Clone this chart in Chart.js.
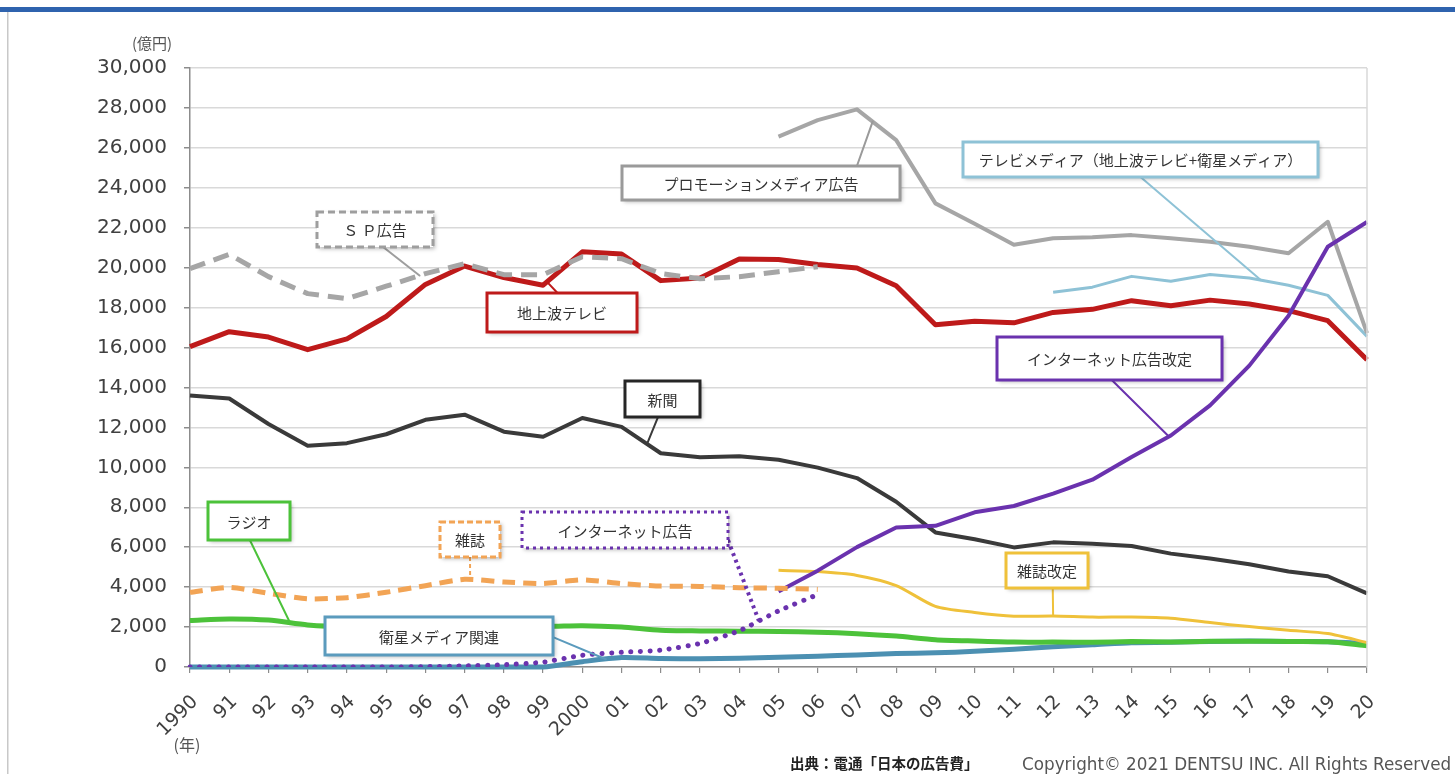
<!DOCTYPE html>
<html>
<head>
<meta charset="utf-8">
<script src="https://cdn.jsdelivr.net/npm/chart.js@4/dist/chart.umd.min.js"></script>
<style>
  html, body { margin: 0; padding: 0; background: #fff; overflow: hidden; }
  canvas { display: block; }
</style>
</head>
<body>
<canvas id="c" width="1455" height="774"></canvas>
<script>
// 媒体別広告費の推移（億円）1990〜2020年
const years = ['1990','91','92','93','94','95','96','97','98','99','2000','01','02','03','04','05','06','07','08','09','10','11','12','13','14','15','16','17','18','19','20'];
const yTicks = [0, 2000, 4000, 6000, 8000, 10000, 12000, 14000, 16000, 18000, 20000, 22000, 24000, 26000, 28000, 30000];

const terrestrialTV = [16046,16793,16526,15891,16435,17553,19162,20079,19505,19121,20793,20681,19351,19480,20436,20411,20161,19981,19092,17139,17321,17237,17757,17913,18347,18088,18374,18178,17848,17345,15386];
const spAds = [19950,20670,19550,18700,18450,19070,19700,20200,19650,19650,20550,20450,19700,19450,19550,19800,20050,null,null,null,null,null,null,null,null,null,null,null,null,null,null];
const promotionMedia = [null,null,null,null,null,null,null,null,null,null,null,null,null,null,null,26560,27390,27930,26390,23220,22200,21150,21470,21520,21630,21470,21300,21050,20720,22300,16720];
const tvMedia = [null,null,null,null,null,null,null,null,null,null,null,null,null,null,null,null,null,null,null,null,null,null,18770,19023,19564,19323,19657,19478,19123,18612,16559];
const newspaper = [13592,13445,12172,11087,11211,11657,12379,12636,11787,11535,12474,12027,10707,10500,10559,10377,9986,9462,8276,6739,6396,5990,6242,6170,6057,5679,5431,5147,4784,4547,3688];
const internetRevised = [null,null,null,null,null,null,null,null,null,null,null,null,null,null,null,3777,4826,6003,6983,7069,7747,8062,8680,9381,10519,11594,13100,15094,17589,21048,22290];
const internetOld = [0,0,0,0,0,0,16,60,114,241,590,735,845,1183,1814,2808,3630,null,null,null,null,null,null,null,null,null,null,null,null,null,null];
const magazineOld = [3741,3986,3692,3417,3473,3743,4073,4395,4258,4183,4369,4180,4051,4035,3970,3945,3887,null,null,null,null,null,null,null,null,null,null,null,null,null,null];
const magazineRevised = [null,null,null,null,null,null,null,null,null,null,null,null,null,null,null,4842,4777,4585,4078,3034,2733,2542,2551,2499,2500,2443,2223,2023,1841,1675,1223];
const radio = [2335,2406,2350,2109,2029,2082,2181,2247,2153,2043,2071,1998,1837,1807,1795,1778,1744,1671,1549,1370,1299,1247,1246,1243,1272,1254,1285,1290,1278,1260,1066];
const satellite = [0,0,0,0,0,0,0,0,0,0,266,471,424,419,436,487,544,603,676,709,784,891,1013,1110,1217,1235,1283,1300,1275,1267,1173];

const C = {
  red: '#BE1A1A', gray: '#A6A6A6', lightBlue: '#8EC2D6', black: '#3A3A3A',
  purple: '#6A32AE', orange: '#F2A455', yellow: '#EFC13A', green: '#4CC23A', teal: '#4C90B2'
};

const seriesByKey = {
  sp: spAds, tv: terrestrialTV, promo: promotionMedia, tvMedia: tvMedia, news: newspaper,
  netRev: internetRevised, netOld: internetOld, mag: magazineOld, magRev: magazineRevised,
  radio: radio, sat: satellite
};

// 吹き出しラベル：箱の中心（年インデックス, 億円）、箱サイズ、引き出し線の起点（箱内の比率）と系列上の終点（年インデックス）
const callouts = [
  { text: 'Ｓ Ｐ広告', key: 'sp', cx: 4.715, cy: 21911, w: 116, h: 35, color: '#9E9E9E', boxDash: [7, 4], from: [0.57, 1], at: 5.85, leaderColor: '#9E9E9E', leaderWidth: 2, leaderDash: [] },
  { text: '地上波テレビ', key: 'tv', cx: 9.482, cy: 17754, w: 150, h: 39, color: '#BE1A1A', boxDash: [], from: [0.47, 0], at: 9.1, leaderColor: '#BE1A1A', leaderWidth: 2, leaderDash: [] },
  { text: 'プロモーションメディア広告', key: 'promo', cx: 14.554, cy: 24240, w: 278, h: 34, color: '#9A9A9A', boxDash: [], from: [0.845, 0], at: 17.4, leaderColor: '#9A9A9A', leaderWidth: 2, leaderDash: [] },
  { text: 'テレビメディア（地上波テレビ+衛星メディア）', key: 'tvMedia', cx: 24.227, cy: 25417, w: 355, h: 35, color: '#8EC2D6', boxDash: [], from: [0.5, 1], at: 27.3, leaderColor: '#8EC2D6', leaderWidth: 2, leaderDash: [] },
  { text: 'インターネット広告改定', key: 'netRev', cx: 23.437, cy: 15450, w: 225, h: 43, color: '#6A32AE', boxDash: [], from: [0.51, 1], at: 24.95, leaderColor: '#6A32AE', leaderWidth: 2, leaderDash: [] },
  { text: '新聞', key: 'news', cx: 12.043, cy: 13422, w: 75, h: 36, color: '#262626', boxDash: [], from: [0.44, 1], at: 11.65, leaderColor: '#3A3A3A', leaderWidth: 2, leaderDash: [] },
  { text: 'ラジオ', key: 'radio', cx: 1.504, cy: 7312, w: 82, h: 38, color: '#4CC23A', boxDash: [], from: [0.51, 1], at: 2.55, leaderColor: '#4CC23A', leaderWidth: 2, leaderDash: [] },
  { text: '雑誌', key: 'mag', cx: 7.137, cy: 6385, w: 60, h: 35, color: '#F2A455', boxDash: [6, 3], from: [0.5, 1], at: 7.14, leaderColor: '#F2A455', leaderWidth: 2, leaderDash: [4, 3] },
  { text: 'インターネット広告', key: 'netOld', cx: 11.088, cy: 6861, w: 206, h: 36, color: '#6A32AE', boxDash: [3, 4], from: [1, 0.78], at: 14.5, leaderColor: '#6A32AE', leaderWidth: 4, leaderDash: [3, 4] },
  { text: '衛星メディア関連', key: 'sat', cx: 6.347, cy: 1553, w: 228, h: 38, color: '#5B9BBD', boxDash: [], from: [1, 0.53], at: 10.6, leaderColor: '#5B9BBD', leaderWidth: 2, leaderDash: [] },
  { text: '雑誌改定', key: 'magRev', cx: 21.844, cy: 4833, w: 82, h: 35, color: '#EFC13A', boxDash: [], from: [0.57, 1], at: 22.0, leaderColor: '#EFC13A', leaderWidth: 2, leaderDash: [] }
];

function valueAt(arr, t) {
  const i = Math.floor(t), f = t - i;
  if (f === 0 || arr[i + 1] == null) return arr[i];
  return arr[i] + (arr[i + 1] - arr[i]) * f;
}

const JP = '"Noto Sans CJK JP", "Noto Sans", sans-serif';
const NUM = '"DejaVu Sans", Verdana, sans-serif';

const calloutPlugin = {
  id: 'callouts',
  afterDatasetsDraw(chart) {
    const ctx = chart.ctx, xs = chart.scales.x, ys = chart.scales.y;
    ctx.save();
    for (const c of callouts) {
      const cx = xs.getPixelForValue(c.cx), cy = ys.getPixelForValue(c.cy);
      const left = cx - c.w / 2, top = cy - c.h / 2;
      const sx = left + c.from[0] * c.w, sy = top + c.from[1] * c.h;
      const tx = xs.getPixelForValue(c.at), ty = ys.getPixelForValue(valueAt(seriesByKey[c.key], c.at));
      // 引き出し線
      ctx.beginPath();
      ctx.setLineDash(c.leaderDash);
      ctx.lineCap = c.leaderDash.length ? 'butt' : 'round';
      ctx.strokeStyle = c.leaderColor;
      ctx.lineWidth = c.leaderWidth;
      ctx.moveTo(sx, sy);
      ctx.lineTo(tx, ty);
      ctx.stroke();
      // 箱（影付き）
      ctx.setLineDash([]);
      ctx.shadowColor = 'rgba(0,0,0,0.28)';
      ctx.shadowBlur = 4;
      ctx.shadowOffsetX = 2;
      ctx.shadowOffsetY = 2;
      ctx.fillStyle = '#fff';
      ctx.fillRect(left, top, c.w, c.h);
      ctx.shadowColor = 'transparent';
      ctx.setLineDash(c.boxDash);
      ctx.lineCap = 'butt';
      ctx.strokeStyle = c.color;
      ctx.lineWidth = 3;
      ctx.strokeRect(left, top, c.w, c.h);
      ctx.setLineDash([]);
      ctx.fillStyle = '#333';
      ctx.font = '15px ' + JP;
      ctx.textAlign = 'center';
      ctx.textBaseline = 'middle';
      ctx.fillText(c.text, cx, cy + 1);
    }
    ctx.restore();
  }
};

const framePlugin = {
  id: 'frame',
  beforeDraw(chart) {
    const ctx = chart.ctx;
    ctx.save();
    ctx.fillStyle = '#fff';
    ctx.fillRect(0, 0, chart.width, chart.height);
    ctx.fillStyle = '#2F63AE';
    ctx.fillRect(0, 7, chart.width, 5);
    ctx.fillStyle = '#C8C8C8';
    ctx.fillRect(7, 12, 1.5, chart.height - 12);
    ctx.restore();
  },
  afterDraw(chart) {
    const ctx = chart.ctx, a = chart.chartArea;
    ctx.save();
    ctx.strokeStyle = '#D9D9D9';
    ctx.lineWidth = 1.5;
    ctx.beginPath();
    ctx.moveTo(a.right, a.top);
    ctx.lineTo(a.right, a.bottom);
    ctx.stroke();
    ctx.fillStyle = '#555';
    ctx.textBaseline = 'middle';
    ctx.textAlign = 'center';
    ctx.font = '15px ' + JP;
    ctx.fillText('(億円)', 152, 43);
    ctx.font = '16px ' + JP;
    ctx.fillText('(年)', 187, 745);
    ctx.textAlign = 'left';
    ctx.fillStyle = '#222';
    ctx.font = 'bold 14.5px ' + JP;
    ctx.fillText('出典：電通「日本の広告費」', 790, 763);
    ctx.fillStyle = '#555';
    ctx.font = '16.8px ' + NUM;
    ctx.fillText('Copyright© 2021 DENTSU INC. All Rights Reserved', 1022, 766);
    ctx.restore();
  }
};

function line(label, data, color, width, order, extra) {
  return Object.assign({
    label, data, borderColor: color, backgroundColor: color, borderWidth: width,
    pointRadius: 0, fill: false, spanGaps: false, tension: 0, order,
    borderJoinStyle: 'round', borderCapStyle: 'butt'
  }, extra || {});
}

new Chart(document.getElementById('c'), {
  type: 'line',
  data: {
    labels: years,
    datasets: [
      line('インターネット広告', internetOld, C.purple, 5, 1, { borderDash: [0.1, 9.5], borderCapStyle: 'round', tension: 0.2 }),
      line('SP広告', spAds, C.gray, 5, 2, { borderDash: [16, 9] }),
      line('雑誌', magazineOld, C.orange, 5, 3, { borderDash: [13, 8], tension: 0.2 }),
      line('インターネット広告改定', internetRevised, C.purple, 4, 4),
      line('プロモーションメディア広告', promotionMedia, C.gray, 4, 5),
      line('テレビメディア', tvMedia, C.lightBlue, 3, 6),
      line('地上波テレビ', terrestrialTV, C.red, 5, 7),
      line('新聞', newspaper, C.black, 4, 8),
      line('雑誌改定', magazineRevised, C.yellow, 3, 9, { tension: 0.25 }),
      line('ラジオ', radio, C.green, 5, 10, { tension: 0.25 }),
      line('衛星メディア関連', satellite, C.teal, 5, 11, { tension: 0.25, clip: 4 })
    ]
  },
  options: {
    responsive: false,
    animation: false,
    devicePixelRatio: 1,
    layout: { padding: { top: 68, right: 88, left: 0, bottom: 0 } },
    plugins: { legend: { display: false }, tooltip: { enabled: false } },
    scales: {
      x: {
        type: 'category',
        offset: false,
        grid: { drawOnChartArea: false, drawTicks: true, tickLength: 6, color: '#8C8C8C', lineWidth: 1.2 },
        border: { display: true, color: '#8C8C8C', width: 1.5 },
        ticks: { autoSkip: false, minRotation: 45, maxRotation: 45, padding: 18, labelOffset: 5, color: '#404040', font: { family: NUM, size: 19 } },
        afterFit(s) { s.height = 107; }
      },
      y: {
        min: 0, max: 30000,
        afterBuildTicks(s) { s.ticks = yTicks.map(v => ({ value: v })); },
        ticks: { padding: 17, color: '#404040', font: { family: NUM, size: 20 }, callback: v => v.toLocaleString('en-US') },
        grid: { color: '#D9D9D9', lineWidth: 1.5, tickLength: 6, tickColor: '#8C8C8C' },
        border: { display: true, color: '#8C8C8C', width: 1.5 },
        afterFit(s) { s.width = 190; }
      }
    }
  },
  plugins: [framePlugin, calloutPlugin]
});
</script>
</body>
</html>
